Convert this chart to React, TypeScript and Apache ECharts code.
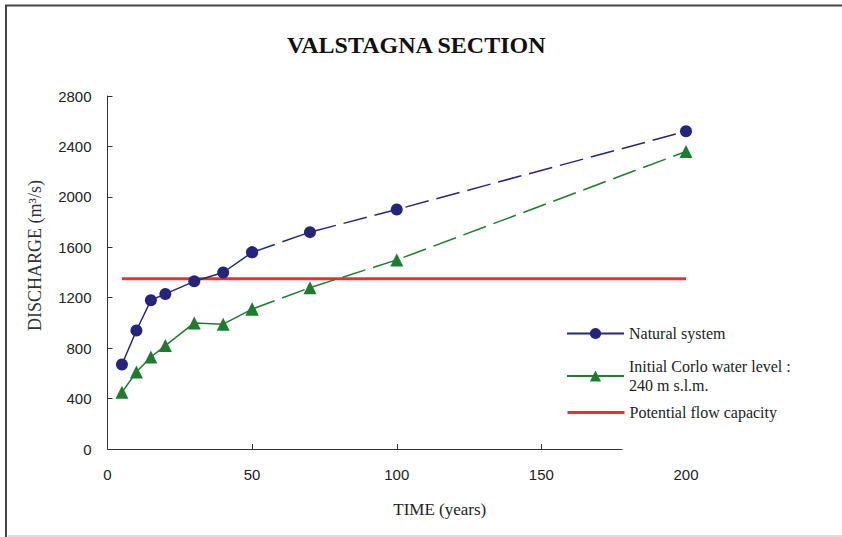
import React, { useEffect, useRef } from "react";
import * as echarts from "echarts";

const timeYears = [5, 10, 15, 20, 30, 40, 50, 70, 100, 200];
const naturalSystem = [670, 940, 1180, 1230, 1330, 1400, 1560, 1720, 1900, 2520];
const initialCorlo = [450, 610, 730, 820, 1000, 990, 1110, 1280, 1500, 2360];
const flowCapacityTime = [5, 200];
const flowCapacity = [1350, 1350];
const xLabelValues = [0, 50, 100, 150, 200];
const xTickValues = [50, 100, 150];
const xAxisLineEnd = 178;
const yTicks = [0, 400, 800, 1200, 1600, 2000, 2400, 2800];

const SOLID_UNTIL = 50;

const pairs = (xs: number[], ys: number[]) => xs.map((x, i) => [x, ys[i]]);
const solidPart = (xs: number[], ys: number[]) =>
  pairs(xs, ys).filter((p) => p[0] <= SOLID_UNTIL);
const dashedPart = (xs: number[], ys: number[]) =>
  pairs(xs, ys).filter((p) => p[0] >= SOLID_UNTIL);

const NAT = "Natural system";
const COR = "Initial Corlo water level :\n240 m s.l.m.";
const CAP = "Potential flow capacity";

const BLUE = "#25257e";
const GREEN = "#1d7d2e";
const RED = "#e8322b";
const SERIF = "Liberation Serif";
const SANS = "Liberation Sans";

export default function App() {
  const ref = useRef<HTMLDivElement>(null);
  useEffect(() => {
    if (!ref.current) return;
    const chart = echarts.init(ref.current, null, { renderer: "svg" });
    const legendBase = {
      orient: "vertical",
      left: 561,
      itemWidth: 57,
      itemHeight: 14,
      selectedMode: false,
      textStyle: { fontFamily: SERIF, fontSize: 16, color: "#222", lineHeight: 19 },
    };
    chart.setOption({
      animation: false,
      backgroundColor: "#fff",
      title: {
        text: "VALSTAGNA SECTION",
        left: 282,
        top: 28,
        textStyle: { fontFamily: SERIF, fontSize: 24, fontWeight: "bold", color: "#111" },
      },
      legend: [
        { ...legendBase, top: 319, data: [NAT] },
        { ...legendBase, top: 352, data: [COR] },
        {
          ...legendBase,
          top: 398,
          data: [{ name: CAP, itemStyle: { opacity: 0 } }],
          lineStyle: { width: 3 },
        },
      ],
      grid: { left: 107.5, top: 96, right: 156, bottom: 88, containLabel: false },
      xAxis: {
        type: "value",
        min: 0,
        max: 200,
        name: "TIME (years)",
        nameLocation: "middle",
        nameGap: 52,
        nameTextStyle: { fontFamily: SERIF, fontSize: 17, color: "#222", padding: [0, 0, 0, 86] },
        axisLine: { show: false },
        axisTick: {
          show: true,
          inside: true,
          length: 5,
          customValues: xTickValues,
          lineStyle: { color: "#333", width: 1 },
        },
        axisLabel: {
          customValues: xLabelValues,
          margin: 18,
          fontFamily: SANS,
          fontSize: 15,
          color: "#222",
          formatter: (v: number) => String(v),
        },
        splitLine: { show: false },
      },
      yAxis: {
        type: "value",
        min: 0,
        max: 2800,
        interval: 400,
        name: "DISCHARGE (m³/s)",
        nameLocation: "middle",
        nameGap: 64,
        nameTextStyle: { fontFamily: SERIF, fontSize: 18, color: "#333", padding: [0, 0, 0, 34] },
        axisLine: { show: true, lineStyle: { color: "#333", width: 1 } },
        axisTick: { show: true, inside: true, length: 5, lineStyle: { color: "#333", width: 1 } },
        axisLabel: {
          margin: 16,
          fontFamily: SANS,
          fontSize: 15,
          color: "#222",
          customValues: yTicks,
          formatter: (v: number) => String(v),
        },
        splitLine: { show: false },
      },
      series: [
        {
          name: CAP,
          type: "line",
          data: pairs(flowCapacityTime, flowCapacity),
          symbol: "none",
          lineStyle: { color: RED, width: 3 },
          itemStyle: { color: RED },
          z: 1,
          markLine: {
            silent: true,
            symbol: ["none", "none"],
            label: { show: false },
            lineStyle: { color: "#333", width: 1, type: "solid" },
            data: [[{ coord: [0, 0] }, { coord: [xAxisLineEnd, 0] }]],
          },
        },
        {
          name: NAT,
          type: "line",
          data: solidPart(timeYears, naturalSystem),
          symbol: "circle",
          symbolSize: 12,
          lineStyle: { color: BLUE, width: 1.5 },
          itemStyle: { color: BLUE },
          z: 3,
        },
        {
          name: NAT + " (extension)",
          type: "line",
          data: dashedPart(timeYears, naturalSystem),
          symbol: "circle",
          symbolSize: 12,
          lineStyle: { color: BLUE, width: 1.5, type: [24, 8] },
          itemStyle: { color: BLUE },
          z: 3,
        },
        {
          name: COR,
          type: "line",
          data: solidPart(timeYears, initialCorlo),
          symbol: "triangle",
          symbolSize: 13,
          lineStyle: { color: GREEN, width: 1.5 },
          itemStyle: { color: GREEN },
          z: 2,
        },
        {
          name: COR + " (extension)",
          type: "line",
          data: dashedPart(timeYears, initialCorlo),
          symbol: "triangle",
          symbolSize: 13,
          lineStyle: { color: GREEN, width: 1.5, type: [24, 8] },
          itemStyle: { color: GREEN },
          z: 2,
        },
      ],
      graphic: [
        { type: "line", shape: { x1: 5, y1: 5.5, x2: 842, y2: 5.5 }, style: { stroke: "#444", lineWidth: 2 } },
        { type: "line", shape: { x1: 6, y1: 5, x2: 6, y2: 537 }, style: { stroke: "#444", lineWidth: 2 } },
        { type: "line", shape: { x1: 8, y1: 536, x2: 842, y2: 536 }, style: { stroke: "#bbb", lineWidth: 1 } },
      ],
    });
    return () => chart.dispose();
  }, []);
  return (
    <div
      ref={ref}
      style={{ position: "absolute", left: 0, top: 0, width: 842, height: 537 }}
    />
  );
}
